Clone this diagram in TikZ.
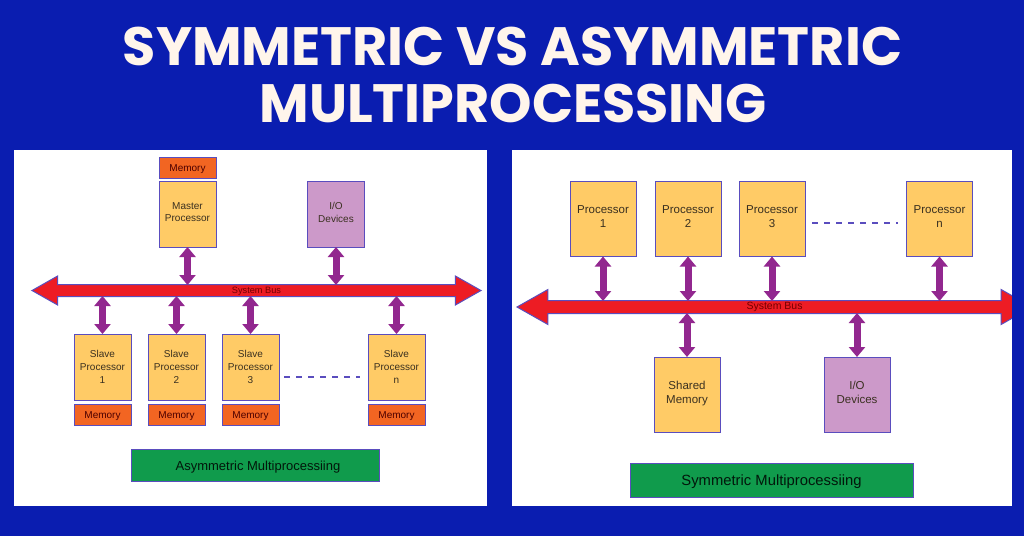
\documentclass[tikz,border=0pt]{standalone}
\usepackage{fontspec}
\setmainfont{Liberation Sans}
\newfontfamily\titlefont{Poppins}
\usetikzlibrary{arrows.meta,shapes.arrows}
\definecolor{bgblue}{HTML}{0A1DB0}
\definecolor{edge}{HTML}{5A4DBE}
\definecolor{yel}{HTML}{FFCB66}
\definecolor{org}{HTML}{F26522}
\definecolor{iop}{HTML}{CC99C9}
\definecolor{grn}{HTML}{109B4C}
\definecolor{busred}{HTML}{ED1C24}
\definecolor{vio}{HTML}{92278F}
\definecolor{ink}{HTML}{3A3020}
\newcommand{\lift}[1]{\rule[-#1]{0pt}{0pt}}
\newcommand{\drop}[1]{\rule{0pt}{#1}}
\tikzset{
  blockbase/.style={draw=edge,line width=1pt,inner sep=0pt,outer sep=0pt,align=center,text=ink},
  lsmall/.style={font=\fontsize{10}{12.8}\selectfont,minimum width=57pt},
  lproc/.style={blockbase,lsmall,fill=yel,minimum height=66pt},
  lio/.style={blockbase,lsmall,fill=iop,minimum height=66pt},
  lmem/.style={blockbase,lsmall,fill=org,minimum height=21pt,text=black!70!red},
  rbig/.style={font=\fontsize{11.5}{14}\selectfont,minimum width=66pt,minimum height=75pt},
  rproc/.style={blockbase,rbig,fill=yel},
  rio/.style={blockbase,rbig,fill=iop},
  caption/.style={blockbase,fill=grn,text=black!85!grn},
  busbar/.style={shape=double arrow,draw=edge,line width=1pt,fill=busred,inner sep=0pt,outer sep=0pt,
    double arrow head indent=0pt,double arrow tip angle=59,text=black!55!red},
  link/.style={draw=vio,line width=7pt,{Triangle[length=10pt,width=16pt]}-{Triangle[length=10pt,width=16pt]}},
  dots/.style={draw=edge,line width=1.3pt,dash pattern=on 6pt off 6pt},
  titletext/.style={text=white!92!orange,font=\titlefont\bfseries\fontsize{54}{54}\selectfont,inner sep=0pt}
}
\begin{document}
\begin{tikzpicture}[x=1pt,y=-1pt]
\useasboundingbox (0,0) rectangle (1024,536);
\fill[bgblue] (0,0) rectangle (1024,536);
\node[titletext] (t1) at (512.5,46) {SYMMETRIC VS ASYMMETRIC};
\node[titletext] (t2) at (513,103) {MULTIPROCESSING};
\fill[white] (14,150) rectangle (487,506);
\fill[white] (512,150) rectangle (1012,506);

% left bus
\node[busbar,minimum height=449pt,minimum width=28pt,double arrow head extend=8.5pt,
  text height=8.8pt,text depth=2.2pt,font=\fontsize{9.2}{10}\selectfont] (lbus) at (256.5,290.5) {System Bus};
\coordinate (lbusT) at (256,285);
\coordinate (lbusB) at (256,296);

\node[lmem] (mm) at (187.5,167.5) {\drop{10pt}Memory};
\node[lproc] (master) at (187.5,214) {Master\\Processor\lift{4pt}};
\node[lio] (lio) at (336,214) {I/O\\Devices\lift{4pt}};
\node[lproc] (s1) at (102.5,367) {Slave\\Processor\\1};
\node[lproc] (s2) at (176.5,367) {Slave\\Processor\\2};
\node[lproc] (s3) at (250.5,367) {Slave\\Processor\\3};
\node[lproc] (sn) at (396.5,367) {Slave\\Processor\\n};
\node[lmem] (m1) at (102.5,414.5) {\drop{10pt}Memory};
\node[lmem] (m2) at (176.5,414.5) {\drop{10pt}Memory};
\node[lmem] (m3) at (250.5,414.5) {\drop{10pt}Memory};
\node[lmem] (m4) at (396.5,414.5) {\drop{10pt}Memory};
\node[caption,minimum width=248pt,minimum height=32pt,font=\fontsize{13}{15}\selectfont] (lcap) at (255,465) {\hspace*{6pt}\drop{13pt}Asymmetric Multiprocessiing};

\draw[dots] (s3.east |- 0,377) ++(5,0) coordinate (ld1) -- ([xshift=-8pt]sn.west |- ld1);

\draw[link] (master.south) -- (master.south |- lbusT);
\draw[link] (lio.south) -- (lio.south |- lbusT);
\draw[link] (s1.north) -- (s1.north |- lbusB);
\draw[link] (s2.north) -- (s2.north |- lbusB);
\draw[link] (s3.north) -- (s3.north |- lbusB);
\draw[link] (sn.north) -- (sn.north |- lbusB);

% right bus
\node[busbar,minimum height=515pt,minimum width=34pt,double arrow head extend=11pt,
  text height=8.45pt,text depth=3.55pt,font=\fontsize{10.5}{12}\selectfont] (rbus) at (774.5,307) {System Bus};
\coordinate (rbusT) at (774,301);
\coordinate (rbusB) at (774,313);
\fill[bgblue] (1012,140) rectangle (1024,536);

\node[rproc] (p1) at (603,219) {Processor\\1\lift{4pt}};
\node[rproc] (p2) at (688,219) {Processor\\2\lift{4pt}};
\node[rproc] (p3) at (772,219) {Processor\\3\lift{4pt}};
\node[rproc] (pn) at (939.5,219) {Processor\\n\lift{4pt}};
\node[rproc] (sh) at (687,394.5) {Shared\\Memory\lift{5pt}};
\node[rio] (rio) at (857,394.5) {I/O\\Devices\lift{5pt}};
\node[caption,minimum width=283pt,minimum height=34pt,font=\fontsize{14.8}{17}\selectfont] (rcap) at (771.5,480) {\drop{15pt}Symmetric Multiprocessiing};

\draw[dots] (p3.east |- 0,223) ++(7,0) coordinate (rd1) -- ([xshift=-9pt]pn.west |- rd1);

\draw[link] (p1.south) -- (p1.south |- rbusT);
\draw[link] (p2.south) -- (p2.south |- rbusT);
\draw[link] (p3.south) -- (p3.south |- rbusT);
\draw[link] (pn.south) -- (pn.south |- rbusT);
\draw[link] (sh.north) -- (sh.north |- rbusB);
\draw[link] (rio.north) -- (rio.north |- rbusB);
\end{tikzpicture}
\end{document}
